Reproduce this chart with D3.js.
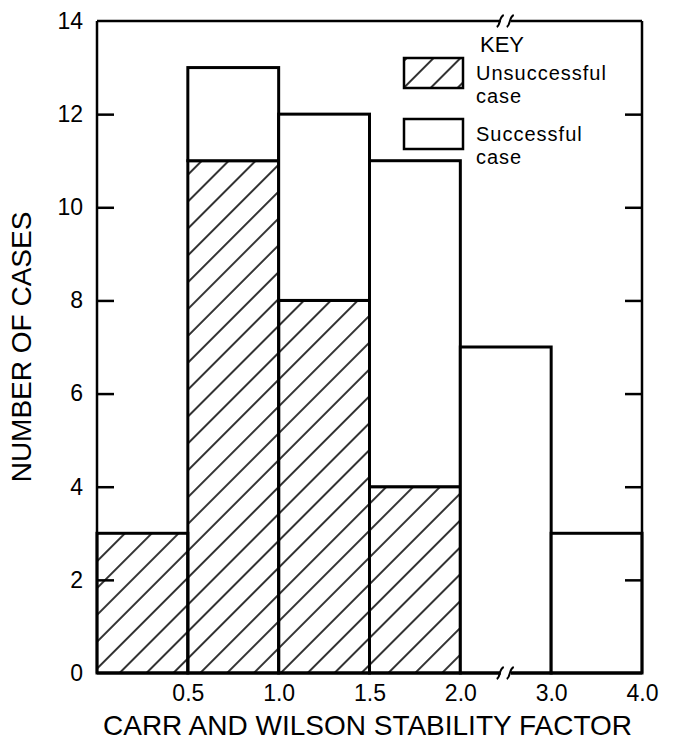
<!DOCTYPE html>
<html>
<head>
<meta charset="utf-8">
<script src="https://cdn.jsdelivr.net/npm/d3@7"></script>
<style>
  body { margin: 0; background: #fff; }
  svg text { font-family: "Liberation Sans", Arial, sans-serif; fill: #000; }
</style>
</head>
<body>
<div id="chart"></div>
<script>
"use strict";

// bin edges along the x axis (the 2.0 -> 3.0 bin spans an axis break)
const binEdges = ["0", "0.5", "1.0", "1.5", "2.0", "3.0", "4.0"];
const unsuccessful = [3, 11, 8, 4, 0, 0];
const successful = [0, 2, 4, 7, 7, 3];
const yTicks = [0, 2, 4, 6, 8, 10, 12, 14];
const keyLabels = [["Unsuccessful", "case"], ["Successful", "case"]];

const MARGIN = {top: 21, right: 32, bottom: 73, left: 97};
const WIDTH = 674 - MARGIN.left - MARGIN.right;
const HEIGHT = 746 - MARGIN.top - MARGIN.bottom;

let root = d3.select("#chart").append("svg")
    .attr("width", 674)
    .attr("height", 746);

let defs = root.append("defs");
defs.append("pattern")
    .attr("id", "hatch")
    .attr("patternUnits", "userSpaceOnUse")
    .attr("width", 19)
    .attr("height", 19)
    .attr("patternTransform", "rotate(45)")
    .append("line")
    .attr("x1", 2).attr("y1", -2)
    .attr("x2", 2).attr("y2", 21)
    .attr("stroke", "#000")
    .attr("stroke-width", 1.6);

let svg = root.append("g")
    .attr("transform", `translate(${MARGIN.left},${MARGIN.top})`);

let xscale = d3.scalePoint()
    .domain(binEdges)
    .range([0, WIDTH]);

let yscale = d3.scaleLinear()
    .domain([0, 14])
    .range([HEIGHT, 0]);

let bins = binEdges.slice(0, -1).map((e, i) => ({
    x0: e,
    x1: binEdges[i + 1],
    unsuccessful: unsuccessful[i],
    successful: successful[i],
}));

let stacked = d3.stack().keys(["unsuccessful", "successful"])(bins);

// bars
stacked.forEach(layer => {
    svg.append("g")
        .selectAll("rect")
        .data(layer.filter(d => d[1] > d[0]))
        .join("rect")
        .attr("x", d => xscale(d.data.x0))
        .attr("width", d => xscale(d.data.x1) - xscale(d.data.x0))
        .attr("y", d => yscale(d[1]))
        .attr("height", d => yscale(d[0]) - yscale(d[1]))
        .attr("fill", layer.key === "unsuccessful" ? "url(#hatch)" : "#fff")
        .attr("stroke", "#000")
        .attr("stroke-width", 3);
});

// left axis, ticks pointing inward
let yaxis = svg.append("g")
    .call(d3.axisLeft(yscale).tickValues(yTicks).tickSize(-17).tickPadding(14));
yaxis.select(".domain").remove();
yaxis.selectAll(".tick line")
    .attr("stroke-width", 2.5)
    .attr("display", d => (d === 0 || d === 14) ? "none" : null);
yaxis.selectAll("text").attr("font-size", 23);

// right axis, ticks only
let raxis = svg.append("g")
    .attr("transform", `translate(${WIDTH},0)`)
    .call(d3.axisLeft(yscale).tickValues(yTicks.slice(1, -1)).tickSize(17).tickFormat(""));
raxis.select(".domain").remove();
raxis.selectAll(".tick line").attr("stroke-width", 2.5);

// bottom labels at bin edges
let xaxis = svg.append("g")
    .attr("transform", `translate(0,${HEIGHT})`)
    .call(d3.axisBottom(xscale).tickValues(binEdges.slice(1)).tickSize(0).tickPadding(12));
xaxis.select(".domain").remove();
xaxis.selectAll("text").attr("font-size", 23);

// frame
let frame = d3.path();
frame.moveTo(0, 0);
frame.lineTo(0, HEIGHT);
frame.moveTo(WIDTH, 0);
frame.lineTo(WIDTH, HEIGHT);
frame.moveTo(0, 0);
frame.lineTo(WIDTH, 0);
svg.append("path")
    .attr("d", frame.toString())
    .attr("fill", "none")
    .attr("stroke", "#000")
    .attr("stroke-width", 2.5);
svg.append("line")
    .attr("x1", 0).attr("x2", WIDTH)
    .attr("y1", HEIGHT).attr("y2", HEIGHT)
    .attr("stroke", "#000")
    .attr("stroke-width", 3);

// axis break marks
const bx = (xscale("2.0") + xscale("3.0")) / 2;
[0, HEIGHT].forEach(by => {
    svg.append("rect")
        .attr("x", bx - 5).attr("y", by - 3)
        .attr("width", 10).attr("height", 6)
        .attr("fill", "#fff");
    [-5, 5].forEach(off => {
        svg.append("path")
            .attr("d", `M${bx + off - 4},${by + 6} C${bx + off},${by + 4} ${bx + off - 2},${by - 4} ${bx + off + 3},${by - 6}`)
            .attr("fill", "none")
            .attr("stroke", "#000")
            .attr("stroke-width", 2);
    });
});

// key
let key = svg.append("g")
    .attr("transform", "translate(307,0)");
key.append("text")
    .attr("x", 76).attr("y", 31)
    .attr("font-size", 22)
    .text("KEY");
keyLabels.forEach((lines, i) => {
    let g = key.append("g").attr("transform", `translate(0,${37 + i * 61})`);
    g.append("rect")
        .attr("width", 59).attr("height", 30)
        .attr("fill", i === 0 ? "url(#hatch)" : "#fff")
        .attr("stroke", "#000")
        .attr("stroke-width", 2.5);
    lines.forEach((t, j) => {
        g.append("text")
            .attr("x", 72).attr("y", 22 + j * 23)
            .attr("font-size", 20)
            .attr("letter-spacing", 1)
            .text(t);
    });
});

// titles
svg.append("text")
    .attr("x", WIDTH / 2 - 2)
    .attr("y", HEIGHT + 62)
    .attr("text-anchor", "middle")
    .attr("font-size", 28)
    .text("CARR AND WILSON STABILITY FACTOR");

svg.append("text")
    .attr("transform", `translate(${-66},${HEIGHT / 2}) rotate(-90)`)
    .attr("text-anchor", "middle")
    .attr("font-size", 28)
    .text("NUMBER OF CASES");
</script>
</body>
</html>
